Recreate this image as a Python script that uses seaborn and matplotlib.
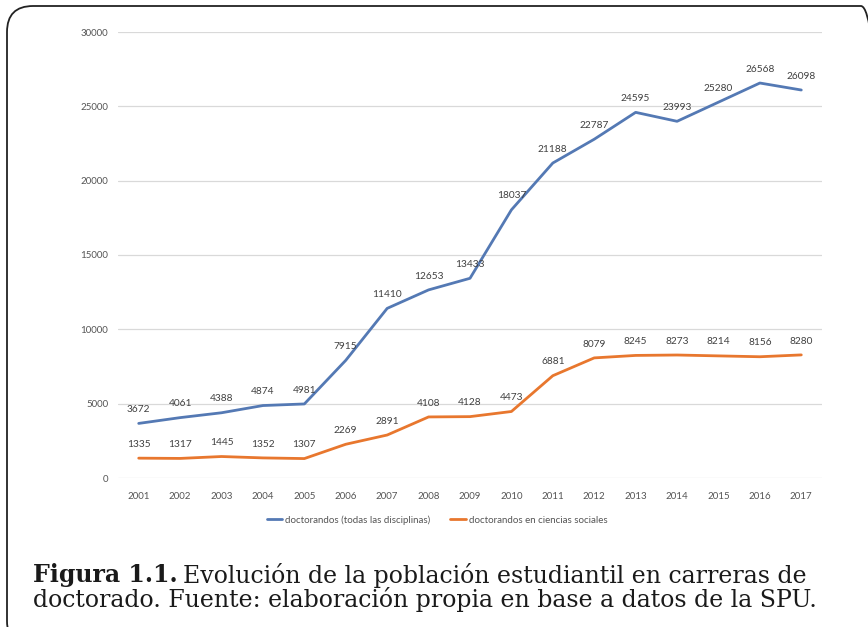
import matplotlib
matplotlib.use("Agg")
import matplotlib.pyplot as plt
from matplotlib.patches import FancyBboxPatch
from matplotlib.lines import Line2D
import seaborn as sns
import pandas as pd

years = [str(y) for y in range(2001, 2018)]
todas = [3672, 4061, 4388, 4874, 4981, 7915, 11410, 12653, 13433, 18037,
         21188, 22787, 24595, 23993, 25280, 26568, 26098]
sociales = [1335, 1317, 1445, 1352, 1307, 2269, 2891, 4108, 4128, 4473,
            6881, 8079, 8245, 8273, 8214, 8156, 8280]
series_names = ["doctorandos (todas las disciplinas)",
                "doctorandos en ciencias sociales"]
y_ticks = [0, 5000, 10000, 15000, 20000, 25000, 30000]

colors = {series_names[0]: "#5479B4", series_names[1]: "#E8772E"}

df = pd.DataFrame({
    "año": years * 2,
    "valor": todas + sociales,
    "serie": [series_names[0]] * len(years) + [series_names[1]] * len(years),
})
df["pos"] = list(range(len(years))) * 2

sns.set_theme(style="white")
plt.rcParams["font.family"] = ["Lato", "DejaVu Sans"]

W, H = 868, 627
fig = plt.figure(figsize=(W / 100, H / 100), dpi=100)
ax = fig.add_axes([118 / W, 1 - 478 / H, 704 / W, 446 / H])

sns.lineplot(data=df, x="pos", y="valor", hue="serie", palette=colors,
             linewidth=2.0, ax=ax, legend=False, sort=False)

ax.set_xlim(-0.5, len(years) - 0.5)
ax.set_ylim(0, 30000)
ax.set_yticks(y_ticks)
ax.set_yticklabels([str(t) for t in y_ticks])
ax.set_xticks(range(len(years)))
ax.set_xticklabels(years)
ax.tick_params(axis="both", length=0, labelsize=7, labelcolor="#555555")
ax.tick_params(axis="y", pad=7)
ax.tick_params(axis="x", pad=10)
ax.set_xlabel("")
ax.set_ylabel("")
for s in ax.spines.values():
    s.set_visible(False)
ax.yaxis.grid(True, color="#D9D9D9", linewidth=0.9)
ax.set_axisbelow(True)

# value labels above each point
for vals in (todas, sociales):
    for i, v in enumerate(vals):
        ax.annotate(str(v), (i, v), xytext=(0, 10), textcoords="offset points",
                    ha="center", va="center", fontsize=7.3, color="#404040")

# legend below the plot
handles = [Line2D([0], [0], color=colors[n], linewidth=2.0) for n in series_names]
fig.legend(handles, series_names, loc="center", ncol=2, frameon=False,
           bbox_to_anchor=(437 / W, 1 - 520 / H), fontsize=7,
           handlelength=1.6, handletextpad=0.3, columnspacing=2.0,
           labelcolor="#555555")

# caption, sized so the second line spans the text block width
cap_font = ["DejaVu Serif"]
cap_color = "#1a1a1a"
x0 = 33 / W
line2 = fig.text(x0, 1 - 600 / H,
                 "doctorado. Fuente: elaboración propia en base a datos de la SPU.",
                 fontsize=14, family=cap_font, va="center", ha="left",
                 color=cap_color)
renderer = fig.canvas.get_renderer()
w = line2.get_window_extent(renderer).width
fs = 14 * 789 / w
line2.set_fontsize(fs)

lab = fig.text(x0, 1 - 575 / H, "Figura 1.1.", fontsize=fs, fontweight="bold",
               family=cap_font, va="center", ha="left", color=cap_color)
lab_w = lab.get_window_extent(renderer).width
fig.text(x0 + (lab_w + 5) / W, 1 - 575 / H,
         "Evolución de la población estudiantil en carreras de",
         fontsize=fs, family=cap_font, va="center", ha="left", color=cap_color)

# rounded frame around the figure
frame = FancyBboxPatch((7 / W, -20 / H), 880 / W, (H - 6 + 20) / H,
                       boxstyle="round,pad=0,rounding_size=0.03",
                       transform=fig.transFigure, fill=False,
                       edgecolor="#222222", linewidth=1.3,
                       mutation_aspect=W / H)
fig.patches.append(frame)

fig.savefig("out.png", dpi=100)
